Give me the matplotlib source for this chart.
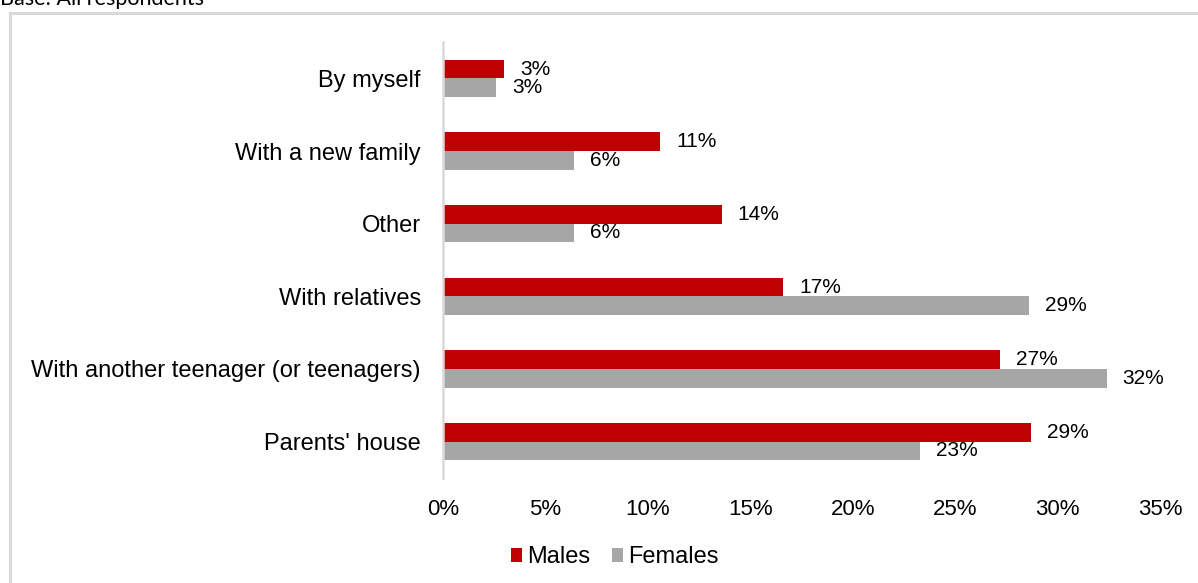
import matplotlib
matplotlib.use("Agg")
import matplotlib.pyplot as plt
from matplotlib.patches import Rectangle, Patch

categories = ["Parents' house", "With another teenager (or teenagers)", "With relatives",
              "Other", "With a new family", "By myself"]
males = [28.7, 27.2, 16.6, 13.6, 10.6, 3.0]
females = [23.3, 32.4, 28.6, 6.4, 6.4, 2.6]
x_ticks = [0, 5, 10, 15, 20, 25, 30, 35]
series_names = ["Males", "Females"]

RED = "#C00000"
GREY = "#A6A6A6"
W, H = 1198, 583

plt.rcParams["font.family"] = ["Liberation Sans", "DejaVu Sans"]
fig = plt.figure(figsize=(W / 100, H / 100), dpi=100)

# outer frame of the chart area
fig.patches.append(Rectangle((10 / W, -0.2), 1.2, (H - 13) / H + 0.2,
                             transform=fig.transFigure, fill=False,
                             edgecolor="#D9D9D9", linewidth=2.2, clip_on=False))
fig.text(0, 1 - 5 / H, "Base: All respondents", family="Lato", fontsize=15.5,
         ha="left", va="baseline")

ax = fig.add_axes([443 / W, 105 / H, (1160 - 443) / W, (478 - 42) / H])
h = 0.255
ys = list(range(len(categories)))
ax.barh([y + h / 2 for y in ys], males, height=h, color=RED)
ax.barh([y - h / 2 for y in ys], females, height=h, color=GREY)

for y, m, f in zip(ys, males, females):
    ax.annotate(f"{m:.0f}%", (m, y + h / 2), xytext=(11.5, 0), textcoords="offset points",
                ha="left", va="center", fontsize=15)
    ax.annotate(f"{f:.0f}%", (f, y - h / 2), xytext=(11.5, 0), textcoords="offset points",
                ha="left", va="center", fontsize=15)

ax.set_xlim(0, 35)
ax.set_ylim(-0.5, len(categories) - 0.5)
ax.set_xticks(x_ticks)
ax.set_xticklabels([f"{t}%" for t in x_ticks], fontsize=16)
ax.set_yticks(ys)
ax.set_yticklabels(categories, fontsize=17)
ax.tick_params(axis="both", length=0)
ax.tick_params(axis="x", pad=15)
ax.tick_params(axis="y", pad=16)
for s in ["top", "right", "bottom"]:
    ax.spines[s].set_visible(False)
ax.spines["left"].set_color("#D9D9D9")
ax.spines["left"].set_linewidth(1.8)

handles = [Patch(facecolor=RED), Patch(facecolor=GREY)]
fig.legend(handles, series_names, loc="center", bbox_to_anchor=(615 / W, 1 - 557 / H),
           ncol=2, frameon=False, fontsize=17, handlelength=0.45, handleheight=0.55,
           handletextpad=0.25, columnspacing=0.9)

fig.savefig("out.png", dpi=100)
